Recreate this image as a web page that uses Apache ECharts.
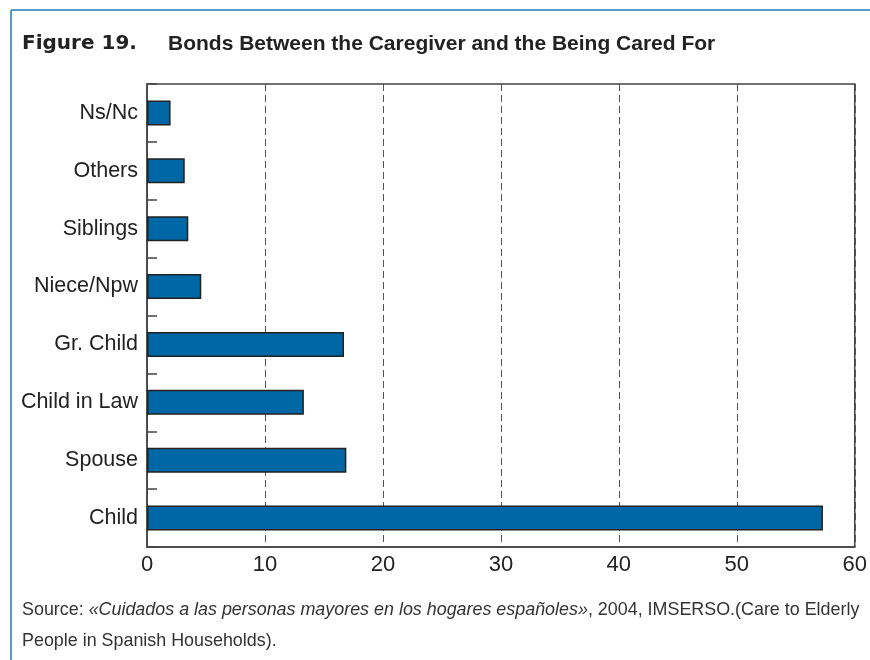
<!DOCTYPE html>
<html><head><meta charset="utf-8">
<script src="https://cdn.jsdelivr.net/npm/echarts@6/dist/echarts.min.js"></script>
<style>html,body{margin:0;padding:0;background:#fff}#c{width:870px;height:660px}</style>
</head><body><div id="c"></div>
<script>
const categories = ['Child', 'Spouse', 'Child in Law', 'Gr. Child', 'Niece/Npw', 'Siblings', 'Others', 'Ns/Nc'];
const values = [57.3, 16.9, 13.3, 16.7, 4.6, 3.5, 3.2, 2.0];
const xTicks = [0, 10, 20, 30, 40, 50, 60];
const titleLabel = 'Figure 19.';
const titleText = 'Bonds Between the Caregiver and the Being Cared For';

const chart = echarts.init(document.getElementById('c'), null, {renderer: 'canvas'});
chart.setOption({
  backgroundColor: '#fff',
  animation: false,
  grid: {left: 147, right: 13, top: 84, bottom: 113, show: true, borderColor: '#444', borderWidth: 1.5},
  xAxis: {
    type: 'value', min: xTicks[0], max: xTicks[xTicks.length - 1], interval: 10,
    axisLine: {show: true, lineStyle: {color: '#444', width: 1.5}},
    axisTick: {show: false},
    axisLabel: {color: '#222', fontSize: 22, fontFamily: 'Liberation Sans', margin: 7},
    splitLine: {show: true, lineStyle: {color: '#555', type: [7, 4], width: 1}}
  },
  yAxis: {
    type: 'category', data: categories,
    axisLine: {show: true, lineStyle: {color: '#444', width: 1.5}},
    axisTick: {show: true, inside: true, length: 10, lineStyle: {color: '#444', width: 1.5}},
    axisLabel: {color: '#222', fontSize: 21.5, fontFamily: 'Liberation Sans', margin: 9},
    splitLine: {show: false}
  },
  series: [{
    type: 'bar', data: values, barWidth: 25,
    itemStyle: {color: '#0067a6', borderColor: '#222', borderWidth: 1.5}
  }],
  graphic: [
    {type: 'line', shape: {x1: 11, y1: 10, x2: 870, y2: 10}, style: {stroke: '#5a9ac8', lineWidth: 2}},
    {type: 'line', shape: {x1: 11, y1: 10, x2: 11, y2: 660}, style: {stroke: '#5a9ac8', lineWidth: 2}},
    {type: 'text', left: 22, top: 34, style: {text: titleLabel, font: '900 20px "DejaVu Sans"', fill: '#222'}},
    {type: 'text', left: 168, top: 34, style: {text: titleText, font: 'bold 21px "Liberation Sans"', fill: '#222'}},
    {type: 'text', left: 22, top: 595, style: {
      text: '{r|Source: }{i|«Cuidados a las personas mayores en los hogares españoles»}{r|, 2004, IMSERSO.(Care to Elderly}\n{r|People in Spanish Households).}',
      lineHeight: 31,
      rich: {
        r: {font: '17.9px "Liberation Sans"', fill: '#333', lineHeight: 31},
        i: {font: 'italic 17.9px "Liberation Sans"', fill: '#333', lineHeight: 31}
      }
    }}
  ]
});
</script></body></html>
